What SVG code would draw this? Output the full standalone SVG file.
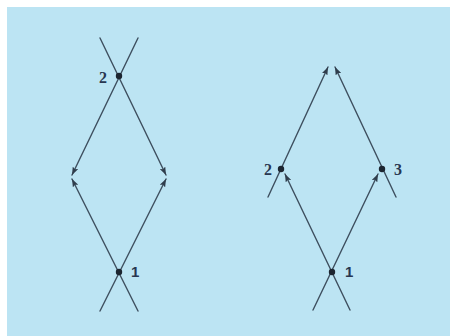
<svg xmlns="http://www.w3.org/2000/svg" width="450" height="336" viewBox="0 0 450 336">
<defs>
<marker id="ah" viewBox="0 0 8 6" refX="8" refY="3" markerWidth="8" markerHeight="6" markerUnits="userSpaceOnUse" orient="auto">
<path d="M0,0 L8,3 L0,6 L1.5,3 Z" fill="#2f3d4c"/>
</marker>
<style>
.ln{stroke:#3e4f5f;stroke-width:1.4;fill:none;stroke-linecap:round}
.ar{marker-end:url(#ah)}
.dot{fill:#1c2530}
.ls{font-family:"Liberation Serif","DejaVu Serif",serif;font-weight:bold;font-size:16px;fill:#283650}
.ln1{font-family:"Liberation Sans","DejaVu Sans",sans-serif;font-weight:bold;font-size:15px;fill:#283650}
</style>
</defs>
<rect x="0" y="0" width="450" height="336" fill="#ffffff"/>
<rect x="7" y="7" width="443" height="329" fill="#bce4f3"/>
<g id="connectors">
<line class="ln ar" x1="100" y1="38" x2="166" y2="175"/>
<line class="ln ar" x1="138" y1="38" x2="72" y2="175"/>
<line class="ln ar" x1="100" y1="311" x2="166" y2="179"/>
<line class="ln ar" x1="138" y1="311" x2="72" y2="179"/>
<line class="ln ar" x1="268" y1="197" x2="328" y2="67"/>
<line class="ln ar" x1="396" y1="197" x2="335" y2="67"/>
<line class="ln ar" x1="350" y1="310" x2="285" y2="174"/>
<line class="ln ar" x1="313" y1="310" x2="378" y2="174"/>
</g>
<g id="left-node-2"><circle class="dot" cx="119" cy="76" r="3.2"/><text class="ls" x="107" y="83" text-anchor="end">2</text></g>
<g id="left-node-1"><circle class="dot" cx="119" cy="272" r="3.2"/><text class="ln1" x="131" y="277">1</text></g>
<g id="right-node-2"><circle class="dot" cx="281" cy="169" r="3.2"/><text class="ls" x="272" y="175" text-anchor="end">2</text></g>
<g id="right-node-3"><circle class="dot" cx="382" cy="169" r="3.2"/><text class="ls" x="394" y="175">3</text></g>
<g id="right-node-1"><circle class="dot" cx="332" cy="272" r="3.2"/><text class="ln1" x="345" y="277">1</text></g>
</svg>
